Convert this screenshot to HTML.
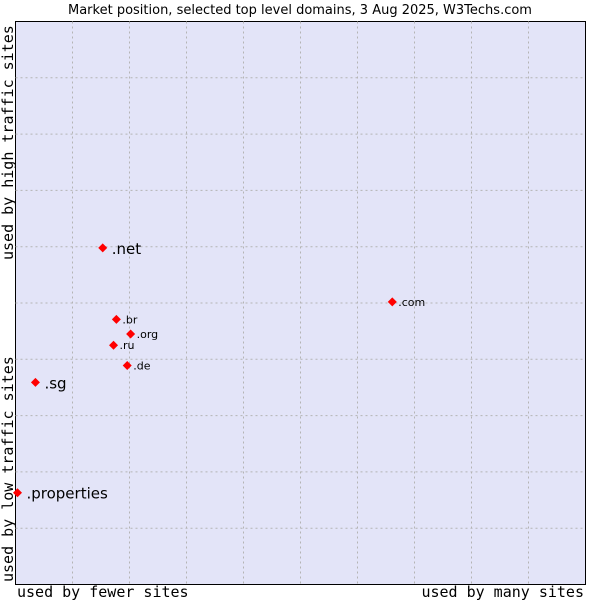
<!DOCTYPE html>
<html><head><meta charset="utf-8"><style>
body{margin:0;background:#fff}
svg text{font-family:"DejaVu Sans","Liberation Sans",sans-serif}
.mono{font-family:"DejaVu Sans Mono","Liberation Mono",monospace}
</style></head><body>
<svg id="chart" width="600" height="600">
<text x="300" y="14" text-anchor="middle" font-size="13">Market position, selected top level domains, 3 Aug 2025, W3Techs.com</text>
<rect x="15.5" y="21.5" width="570" height="563" fill="#e3e4f8" stroke="#000"/>
<g id="grid"></g>
<g id="points"></g>
<text class="mono" x="17" y="597" font-size="15">used by fewer sites</text>
<text class="mono" x="584" y="597" font-size="15" text-anchor="end">used by many sites</text>
<text class="mono" transform="translate(13,582) rotate(-90)" font-size="15">used by low traffic sites</text>
<text class="mono" transform="translate(13,260) rotate(-90)" font-size="15">used by high traffic sites</text>
</svg>
<script>
const domains=[".net",".com",".br",".org",".ru",".de",".sg",".properties"];
const usage=[15.3,66.1,17.7,20.2,17.2,19.6,3.5,0.35];
const traffic=[59.8,50.2,47.1,44.5,42.5,38.9,35.9,16.3];
const labelSize=["big","small","small","small","small","small","big","big"];
const X0=15.5,X1=585.5,Y0=584.5,Y1=21.5;
const xs=v=>X0+(X1-X0)*v/100;
const ys=v=>Y0-(Y0-Y1)*v/100;
const NS="http://www.w3.org/2000/svg";
const grid=document.getElementById('grid');
for(let i=1;i<10;i++){
  const v=document.createElementNS(NS,'line');
  
  
  v.setAttribute('x1',xs(i*10));v.setAttribute('x2',xs(i*10));v.setAttribute('y1',Y1);v.setAttribute('y2',Y0);
  v.setAttribute('stroke','#b4b4b4');v.setAttribute('stroke-dasharray','2,3');
  grid.appendChild(v);
  const h=document.createElementNS(NS,'line');
  
  
  h.setAttribute('y1',ys(i*10));h.setAttribute('y2',ys(i*10));h.setAttribute('x1',X0);h.setAttribute('x2',X1);
  h.setAttribute('stroke','#b4b4b4');h.setAttribute('stroke-dasharray','2,3');
  grid.appendChild(h);
}
const pts=document.getElementById('points');
domains.forEach((d,i)=>{
  const x=xs(usage[i]),y=ys(traffic[i]);
  const p=document.createElementNS(NS,'polygon');
  
  
  p.setAttribute('points',`${x-4.5},${y} ${x},${y-4.5} ${x+4.5},${y} ${x},${y+4.5}`);
  p.setAttribute('fill','#f00');
  pts.appendChild(p);
  const t=document.createElementNS(NS,'text');
  
  
  const big=labelSize[i]==="big";
  t.setAttribute('x',x+(big?9:6));t.setAttribute('y',y+(big?6:4));
  t.setAttribute('font-size',big?15:11);
  t.textContent=d;
  pts.appendChild(t);
});
</script>
</body></html>
